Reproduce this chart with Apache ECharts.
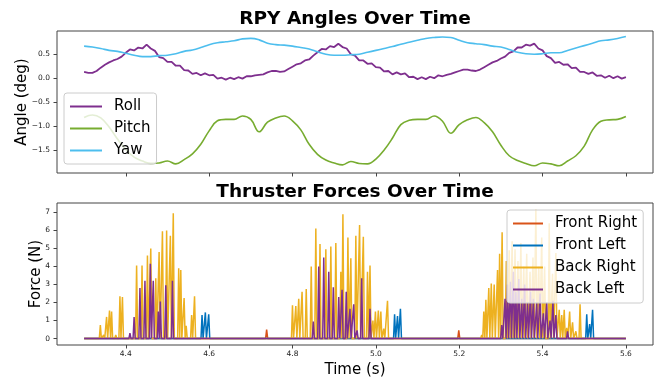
<!DOCTYPE html>
<html>
<head>
<meta charset="utf-8">
<script src="https://cdn.jsdelivr.net/npm/echarts@6/dist/echarts.min.js"></script>
<style>
  html, body { margin: 0; padding: 0; background: #fff; }
  #main { width: 661px; height: 381px; }
</style>
</head>
<body>
<div id="main"></div>
<script>
// time grid of the angle samples
const rollStart = 4.30, rollStep = 0.01;
const rpyStart = 4.30, rpyStep = 0.02;

const roll = [
  0.13, 0.11, 0.11, 0.15, 0.22, 0.28, 0.33, 0.37, 0.40, 0.45,
  0.53, 0.60, 0.58, 0.64, 0.62, 0.70, 0.62, 0.57, 0.44, 0.42,
  0.34, 0.34, 0.26, 0.26, 0.17, 0.16, 0.09, 0.11, 0.06, 0.10,
  0.06, 0.07, -0.01, 0.01, -0.03, 0.01, -0.02, 0.02, -0.01, 0.04,
  0.04, 0.06, 0.07, 0.08, 0.12, 0.15, 0.15, 0.13, 0.14, 0.19,
  0.24, 0.29, 0.31, 0.37, 0.39, 0.47, 0.54, 0.61, 0.60, 0.67,
  0.65, 0.72, 0.65, 0.62, 0.50, 0.47, 0.37, 0.37, 0.30, 0.31,
  0.23, 0.22, 0.14, 0.15, 0.08, 0.12, 0.08, 0.10, 0.02, 0.03,
  -0.02, 0.02, -0.02, 0.03, 0.00, 0.06, 0.04, 0.07, 0.09, 0.12,
  0.15, 0.18, 0.18, 0.16, 0.15, 0.18, 0.23, 0.28, 0.33, 0.36,
  0.41, 0.45, 0.53, 0.56, 0.64, 0.64, 0.70, 0.68, 0.72, 0.62,
  0.58, 0.46, 0.42, 0.32, 0.34, 0.28, 0.29, 0.21, 0.22, 0.13,
  0.13, 0.09, 0.12, 0.05, 0.06, 0.01, 0.05, 0.00, 0.04, -0.01,
  0.02
];

const pitch = [
  -0.82, -0.77, -0.83, -1.02, -1.27, -1.49, -1.65, -1.73, -1.78, -1.77,
  -1.73, -1.79, -1.70, -1.58, -1.38, -1.10, -0.89, -0.86, -0.86, -0.79,
  -0.86, -1.12, -0.92, -0.83, -0.79, -0.89, -1.08, -1.38, -1.59, -1.71,
  -1.77, -1.81, -1.74, -1.78, -1.79, -1.69, -1.50, -1.25, -0.97, -0.88,
  -0.86, -0.86, -0.79, -0.90, -1.15, -0.97, -0.87, -0.82, -0.93, -1.12,
  -1.40, -1.62, -1.72, -1.78, -1.83, -1.77, -1.79, -1.83, -1.73, -1.62,
  -1.42, -1.08, -0.90, -0.87, -0.86, -0.80
];

const yaw = [
  0.67, 0.65, 0.62, 0.58, 0.56, 0.52, 0.48, 0.45, 0.45, 0.47,
  0.48, 0.51, 0.56, 0.59, 0.64, 0.70, 0.74, 0.76, 0.78, 0.82,
  0.83, 0.80, 0.73, 0.70, 0.69, 0.67, 0.64, 0.61, 0.55, 0.50,
  0.48, 0.48, 0.49, 0.50, 0.54, 0.58, 0.62, 0.66, 0.71, 0.75,
  0.79, 0.83, 0.85, 0.86, 0.85, 0.79, 0.74, 0.72, 0.70, 0.67,
  0.65, 0.60, 0.54, 0.51, 0.50, 0.51, 0.53, 0.53, 0.58, 0.63,
  0.68, 0.73, 0.78, 0.80, 0.83, 0.87
];

// thruster pulses: [time, force]
const frontRight = [[4.738, 0.5], [5.199, 0.45]];

const frontLeft = [
  [4.583, 1.3], [4.591, 1.45], [4.599, 1.35],
  [5.045, 1.35], [5.052, 1.25], [5.059, 1.65],
  [5.506, 1.35], [5.513, 0.8], [5.520, 1.6]
];

const backRight = [
  [4.339, 0.75], [4.347, 0.2], [4.354, 1.2], [4.361, 1.55], [4.366, 1.5], [4.376, 0.2],
  [4.386, 2.35], [4.392, 2.3], [4.426, 4.05], [4.439, 4.05], [4.452, 4.6], [4.460, 5.0],
  [4.472, 3.35], [4.480, 4.8], [4.488, 5.95], [4.498, 6.0], [4.507, 5.7], [4.514, 6.95],
  [4.527, 3.9], [4.532, 3.8], [4.540, 2.25], [4.545, 0.7], [4.558, 1.3], [4.565, 2.35],
  [4.800, 1.85], [4.808, 1.8], [4.815, 2.2], [4.823, 2.6], [4.833, 2.75], [4.845, 4.0],
  [4.856, 6.1], [4.866, 5.25], [4.880, 4.95], [4.892, 5.1], [4.904, 5.3], [4.916, 3.7],
  [4.921, 6.9], [4.933, 5.6], [4.940, 4.45], [4.952, 5.7], [4.961, 6.3], [4.970, 5.65],
  [4.980, 3.7], [4.986, 4.05], [4.993, 1.0], [4.999, 1.5], [5.006, 1.55], [5.012, 1.5],
  [5.019, 0.55], [5.028, 2.1],
  [5.254, 0.2], [5.259, 1.5], [5.264, 2.15], [5.271, 2.8], [5.277, 3.05], [5.284, 3.0],
  [5.292, 3.8], [5.297, 4.7], [5.303, 5.9], [5.313, 4.3], [5.320, 4.9], [5.327, 5.4],
  [5.334, 4.95], [5.341, 4.3], [5.348, 5.3], [5.355, 4.0], [5.362, 4.7], [5.370, 3.7],
  [5.377, 4.5], [5.384, 7.15], [5.391, 4.0], [5.398, 5.6], [5.405, 4.0], [5.416, 6.4],
  [5.424, 3.6], [5.432, 4.75], [5.440, 1.6], [5.446, 1.3], [5.452, 1.6], [5.458, 0.6],
  [5.465, 1.5], [5.472, 0.9], [5.480, 0.4], [5.490, 1.9]
];

const backLeft = [
  [4.410, 0.3], [4.420, 1.2], [4.434, 2.8], [4.446, 3.2], [4.459, 4.15], [4.466, 3.2],
  [4.478, 1.5], [4.483, 2.05], [4.496, 2.95], [4.512, 3.2],
  [4.850, 0.95], [4.863, 4.0], [4.875, 4.5], [4.887, 3.7], [4.898, 2.85], [4.911, 2.3],
  [4.919, 2.7], [4.929, 2.6], [4.938, 1.65], [4.947, 1.9], [4.955, 0.45], [4.966, 3.35],
  [4.986, 1.65],
  [5.302, 0.75], [5.310, 2.2], [5.316, 3.0], [5.323, 3.15], [5.330, 3.7], [5.336, 2.6],
  [5.343, 3.3], [5.350, 2.2], [5.357, 3.0], [5.364, 2.0], [5.371, 2.6], [5.378, 2.2],
  [5.386, 2.0], [5.394, 2.5], [5.402, 1.4], [5.410, 2.0], [5.418, 1.0], [5.425, 2.1],
  [5.432, 1.3], [5.460, 0.4]
];

const timeTicks = [4.4, 4.6, 4.8, 5.0, 5.2, 5.4, 5.6];
const angleTicks = [-1.5, -1.0, -0.5, 0.0, 0.5];
const forceTicks = [0, 1, 2, 3, 4, 5, 6, 7];

const tMin = 4.235, tMax = 5.665;
const spikeHalf = 0.0025;

function series2d(start, step, vals) {
  return vals.map((v, i) => [+(start + i * step).toFixed(3), v]);
}

function pulses(list) {
  const out = [[4.30, 0]];
  let last = 4.30;
  list.slice().sort((a, b) => a[0] - b[0]).forEach(p => {
    const a = Math.max(p[0] - spikeHalf, last);
    out.push([a, 0], [p[0], p[1]], [p[0] + spikeHalf, 0]);
    last = p[0] + spikeHalf;
  });
  out.push([5.60, 0]);
  return out;
}

const minus = s => s.replace('-', '\u2212');

const tickFont = { fontFamily: 'DejaVu Sans', fontSize: 7.5, color: '#222' };
const labelFont = { fontFamily: 'DejaVu Sans', fontSize: 15, color: '#000' };

const legendBase = {
  orient: 'vertical',
  padding: [5, 6, 5, 6],
  itemHeight: 2,
  itemGap: 5,
  icon: 'rect',
  backgroundColor: 'rgba(255,255,255,0.8)',
  borderColor: '#ccc',
  borderWidth: 1,
  borderRadius: 3,
  textStyle: { fontFamily: 'DejaVu Sans', fontSize: 15, lineHeight: 17, color: '#000', padding: [0, 0, 0, 7] }
};

const chart = echarts.init(document.getElementById('main'));
chart.setOption({
  animation: false,
  title: [
    { text: 'RPY Angles Over Time', left: 355, top: 8, textAlign: 'center', padding: 0,
      textStyle: { fontFamily: 'DejaVu Sans', fontSize: 18.5, fontWeight: 'bold', color: '#000', lineHeight: 22 } },
    { text: 'Thruster Forces Over Time', left: 355, top: 181, textAlign: 'center', padding: 0,
      textStyle: { fontFamily: 'DejaVu Sans', fontSize: 18.5, fontWeight: 'bold', color: '#000', lineHeight: 22 } }
  ],
  legend: [
    Object.assign({}, legendBase, { left: 64, top: 93, itemWidth: 32, data: ['Roll', 'Pitch', 'Yaw'] }),
    Object.assign({}, legendBase, { left: 507, top: 210, itemWidth: 30,
      data: ['Front Right', 'Front Left', 'Back Right', 'Back Left'] })
  ],
  grid: [
    { left: 57, right: 8, top: 31, height: 142, show: true, borderColor: '#444', borderWidth: 1 },
    { left: 57, right: 8, top: 203, height: 142, show: true, borderColor: '#444', borderWidth: 1 }
  ],
  xAxis: [0, 1].map(i => ({
    type: 'value', gridIndex: i, min: tMin, max: tMax,
    axisLine: { show: false, onZero: false },
    splitLine: { show: false },
    axisTick: { show: true, length: 3.5, customValues: timeTicks, lineStyle: { color: '#444' } },
    axisLabel: { show: i === 1, customValues: timeTicks, margin: 5, ...tickFont,
      formatter: v => v.toFixed(1) },
    name: i === 1 ? 'Time (s)' : '',
    nameLocation: 'middle', nameGap: 18, nameMoveOverlap: false, nameTextStyle: labelFont
  })),
  yAxis: [
    { type: 'value', gridIndex: 0, min: -1.98, max: 0.985,
      axisLine: { show: false, onZero: false }, splitLine: { show: false },
      axisTick: { show: true, length: 3.5, customValues: angleTicks, lineStyle: { color: '#444' } },
      axisLabel: { customValues: angleTicks, margin: 7, ...tickFont, formatter: v => minus(v.toFixed(1)) },
      name: 'Angle (deg)', nameLocation: 'middle', nameGap: 27, nameMoveOverlap: false, nameTextStyle: labelFont },
    { type: 'value', gridIndex: 1, min: -0.358, max: 7.52,
      axisLine: { show: false, onZero: false }, splitLine: { show: false },
      axisTick: { show: true, length: 3.5, customValues: forceTicks, lineStyle: { color: '#444' } },
      axisLabel: { customValues: forceTicks, margin: 7, ...tickFont, formatter: v => String(v) },
      name: 'Force (N)', nameLocation: 'middle', nameGap: 13, nameMoveOverlap: false, nameTextStyle: labelFont }
  ],
  series: [
    { name: 'Roll', type: 'line', xAxisIndex: 0, yAxisIndex: 0, showSymbol: false,
      data: series2d(rollStart, rollStep, roll), lineStyle: { width: 1.8, color: '#7E2F8E' }, itemStyle: { color: '#7E2F8E' } },
    { name: 'Pitch', type: 'line', xAxisIndex: 0, yAxisIndex: 0, showSymbol: false, smooth: 0.4,
      data: series2d(rpyStart, rpyStep, pitch), lineStyle: { width: 1.6, color: '#77AC30' }, itemStyle: { color: '#77AC30' } },
    { name: 'Yaw', type: 'line', xAxisIndex: 0, yAxisIndex: 0, showSymbol: false, smooth: 0.4,
      data: series2d(rpyStart, rpyStep, yaw), lineStyle: { width: 1.6, color: '#4DBEEE' }, itemStyle: { color: '#4DBEEE' } },
    { name: 'Front Right', type: 'line', xAxisIndex: 1, yAxisIndex: 1, showSymbol: false,
      data: pulses(frontRight), lineStyle: { width: 1.5, color: '#D95319' }, itemStyle: { color: '#D95319' } },
    { name: 'Front Left', type: 'line', xAxisIndex: 1, yAxisIndex: 1, showSymbol: false,
      data: pulses(frontLeft), lineStyle: { width: 1.5, color: '#0072BD' }, itemStyle: { color: '#0072BD' } },
    { name: 'Back Right', type: 'line', xAxisIndex: 1, yAxisIndex: 1, showSymbol: false,
      data: pulses(backRight), lineStyle: { width: 1.5, color: '#EDB120' }, itemStyle: { color: '#EDB120' } },
    { name: 'Back Left', type: 'line', xAxisIndex: 1, yAxisIndex: 1, showSymbol: false,
      data: pulses(backLeft), lineStyle: { width: 1.5, color: '#7E2F8E' }, itemStyle: { color: '#7E2F8E' } }
  ]
});
</script>
</body>
</html>
